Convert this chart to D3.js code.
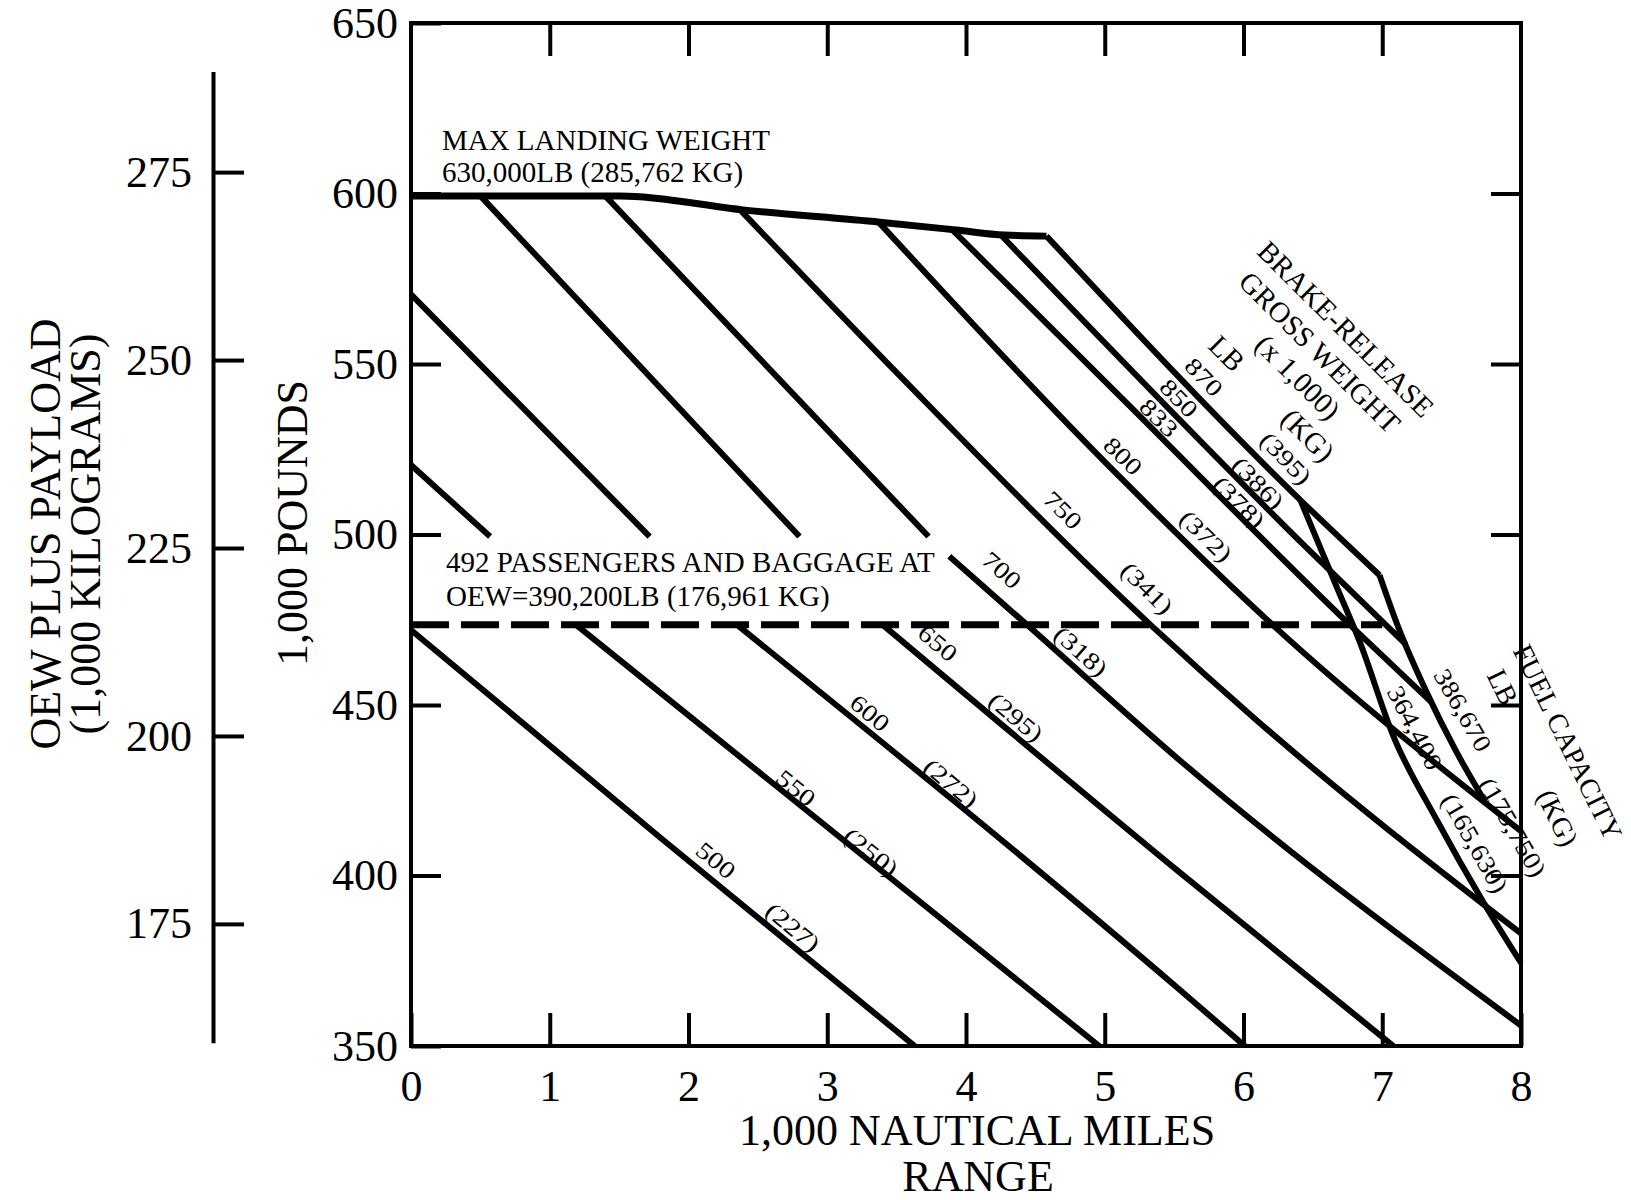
<!DOCTYPE html>
<html>
<head>
<meta charset="utf-8">
<script src="https://cdnjs.cloudflare.com/ajax/libs/d3/7.8.5/d3.min.js"></script>
<style>
body { margin: 0; background: #fff; }
svg text { font-family: "Liberation Serif", "DejaVu Serif", serif; fill: #000; }
</style>
</head>
<body>
<div id="chart"></div>
<script>
// axis values
var rangeTicks = [0, 1, 2, 3, 4, 5, 6, 7, 8];
var poundTicks = [350, 400, 450, 500, 550, 600, 650];
var kgTicks = [175, 200, 225, 250, 275];
var kgAxisEnds = [159.2, 288.4];
var LB_PER_KG = 2.20462;

// range (1,000 nm) vs OEW + payload (1,000 lb)
var maxLanding = [[0, 599.3], [1.51, 599.3], [2.39, 595.2], [3.38, 591.6], [3.93, 589.3], [4.28, 587.8], [4.58, 587.5]];
var passengerLevel = [[0, 473.5], [7.0, 473.5]];

// brake-release gross weight lines, null = gap under the note text
var tow500 = [[0, 472], [1.8, 411], [3.63, 350]];
var tow550 = [[0, 520.4], [0.57, 499.4], null, [1.19, 473.5], [4.96, 350]];
var tow600 = [[0, 570.4], [1.72, 499.4], null, [2.35, 473.5], [5.54, 366.5], [6.01, 350]];
var tow650 = [[0.50, 599.3], [2.80, 499.4], null, [3.40, 473.5], [5.54, 400.9], [7.08, 350]];
var tow700 = [[1.40, 599.3], [3.73, 499.4], null, [3.88, 493.6], [4.44, 473.5], [5.54, 433.8], [8, 356]];
var tow750 = [[2.37, 595.3], [3.55, 545.4], [5.33, 473.5], [6.09, 445.7], [8, 383]];
var tow800 = [[3.37, 591.6], [5.11, 516.8], [6.21, 473.5], [8, 413]];
var tow833 = [[3.90, 589.4], [5.11, 540.5], [6.79, 472.6], [7.35, 451]];
var tow850 = [[4.25, 587.9], [6.45, 496.3], [7.17, 467.8]];
var tow870 = [[4.58, 587.5], [6.41, 510.1], [6.98, 488.1]];

// fuel capacity lines
var fuel364 = [[6.41, 510.1], [6.67, 484.8], [6.84, 468.3], [7.08, 440.9], [7.39, 416.5], [7.73, 392.1], [8, 374.4]];
var fuel387 = [[6.98, 488.1], [7.12, 472.3], [7.32, 453.7], [7.53, 436.6], [7.74, 421.7]];

// [line, text, range, pounds] label centres
var lineLabels = [
	["500", "500", 2.198, 404.5], ["500", "(227)", 2.753, 384.9],
	["550", "550", 2.775, 425.7], ["550", "(250)", 3.315, 406.9],
	["600", "600", 3.308, 447.7], ["600", "(272)", 3.892, 427.1],
	["650", "650", 3.798, 468.2], ["650", "(295)", 4.360, 446.5],
	["700", "700", 4.259, 489.6], ["700", "(318)", 4.829, 465.8],
	["750", "750", 4.699, 507.2], ["750", "(341)", 5.305, 484.3],
	["800", "800", 5.132, 523.0], ["800", "(372)", 5.730, 499.6],
	["833", "833", 5.391, 534.2], ["833", "(378)", 5.968, 509.5],
	["850", "850", 5.535, 540.0], ["850", "(386)", 6.105, 515.1],
	["870", "870", 5.715, 546.2], ["870", "(395)", 6.306, 522.4]
];
var fuelLabels = [
	["387", "386,670", 7.582, 448.5], ["387", "(175,750)", 7.942, 414.2],
	["364", "364,400", 7.236, 443.3], ["364", "(165,630)", 7.668, 409.5]
];

var notes = [
	["MAX LANDING WEIGHT", 0.223, 612.8],
	["630,000LB (285,762 KG)", 0.223, 603.4],
	["492 PASSENGERS AND BAGGAGE AT", 0.252, 489.0],
	["OEW=390,200LB (176,961 KG)", 0.252, 479.0]
];
var brakeNotes = [
	["BRAKE-RELEASE", 6.739, 560.3],
	["GROSS WEIGHT", 6.551, 553.5],
	["(x 1,000)", 6.393, 546.2],
	["(KG)", 6.465, 529.2],
	["LB", 5.881, 553.2]
];
var fuelNotes = [
	["FUEL CAPACITY", 8.339, 439.1],
	["LB", 7.870, 455.3],
	["(KG)", 8.267, 416.9]
];

var W = 1631, H = 1200;
var plotLeft = 411, plotTop = 23, plotW = 1110, plotH = 1023;
var serif = '"Liberation Serif", "DejaVu Serif", serif';

var svg = d3.select("#chart").append("svg")
	.attr("width", W)
	.attr("height", H);

svg.append("rect").attr("width", W).attr("height", H).attr("fill", "#fff");

var x = d3.scaleLinear().domain([0, 8]).range([plotLeft, plotLeft + plotW]);
var y = d3.scaleLinear().domain([350, 650]).range([plotTop + plotH, plotTop]);

function styleAxis(g, size)
{
	g.select(".domain").remove();
	g.selectAll(".tick line").attr("stroke", "#000").attr("stroke-width", 4);
	g.selectAll("text").attr("font-size", size).attr("font-family", serif);
}

/* frame with inward ticks */
svg.append("g")
	.attr("transform", `translate(0, ${y(350)})`)
	.call(d3.axisBottom(x).tickValues(rangeTicks).tickSizeInner(-33).tickSizeOuter(0).tickPadding(24))
	.call(g => styleAxis(g, 44));

svg.append("g")
	.attr("transform", `translate(0, ${y(650)})`)
	.call(d3.axisTop(x).tickValues(rangeTicks.slice(1, -1)).tickSizeInner(-33).tickSizeOuter(0).tickFormat(""))
	.call(g => styleAxis(g, 44));

svg.append("g")
	.attr("transform", `translate(${x(0)}, 0)`)
	.call(d3.axisLeft(y).tickValues(poundTicks).tickSizeInner(-30).tickSizeOuter(0).tickPadding(13))
	.call(g => styleAxis(g, 44));

svg.append("g")
	.attr("transform", `translate(${x(8)}, 0)`)
	.call(d3.axisRight(y).tickValues(poundTicks.slice(1, -1)).tickSizeInner(-30).tickSizeOuter(0).tickFormat(""))
	.call(g => styleAxis(g, 44));

svg.append("rect")
	.attr("x", x(0)).attr("y", y(650))
	.attr("width", x(8) - x(0)).attr("height", y(350) - y(650))
	.attr("fill", "none").attr("stroke", "#000").attr("stroke-width", 4);

/* kilogram scale on the far left */
var yKg = d3.scaleLinear()
	.domain(kgAxisEnds)
	.range(kgAxisEnds.map(k => y(k * LB_PER_KG)));

svg.append("g")
	.attr("transform", "translate(213, 0)")
	.call(d3.axisRight(yKg).tickValues(kgTicks).tickSizeInner(31).tickSizeOuter(0))
	.call(function(g) {
		g.select(".domain").attr("stroke", "#000").attr("stroke-width", 4);
		g.selectAll(".tick line").attr("stroke", "#000").attr("stroke-width", 4);
		g.selectAll("text")
			.attr("x", -21)
			.attr("text-anchor", "end")
			.attr("font-size", 44)
			.attr("font-family", serif);
	});

/* axis titles */
svg.append("text").attr("x", 977).attr("y", 1145).attr("text-anchor", "middle")
	.attr("font-size", 44).text("1,000 NAUTICAL MILES");
svg.append("text").attr("x", 978).attr("y", 1191).attr("text-anchor", "middle")
	.attr("font-size", 44).text("RANGE");
svg.append("text").attr("transform", "translate(307, 523) rotate(-90)").attr("text-anchor", "middle")
	.attr("font-size", 44).text("1,000 POUNDS");
svg.append("text").attr("transform", "translate(60, 534) rotate(-90)").attr("text-anchor", "middle")
	.attr("font-size", 44).text("OEW PLUS PAYLOAD");
svg.append("text").attr("transform", "translate(100, 534) rotate(-90)").attr("text-anchor", "middle")
	.attr("font-size", 44).text("(1,000 KILOGRAMS)");

/* curves */
var line = d3.line()
	.defined(d => d !== null)
	.x(d => x(d[0]))
	.y(d => y(d[1]))
	.curve(d3.curveMonotoneX);

var curves = [
	{key: "500", pts: tow500}, {key: "550", pts: tow550}, {key: "600", pts: tow600},
	{key: "650", pts: tow650}, {key: "700", pts: tow700}, {key: "750", pts: tow750},
	{key: "800", pts: tow800}, {key: "833", pts: tow833}, {key: "850", pts: tow850},
	{key: "870", pts: tow870}, {key: "364", pts: fuel364}, {key: "387", pts: fuel387}
];
var curveByKey = {};
curves.forEach(c => curveByKey[c.key] = c.pts);

svg.append("g").selectAll("path")
	.data(curves).enter()
	.append("path")
	.attr("d", d => line(d.pts))
	.attr("fill", "none")
	.attr("stroke", "#000")
	.attr("stroke-width", 6)
	.attr("stroke-linejoin", "round");

svg.append("path")
	.attr("d", line(maxLanding))
	.attr("fill", "none")
	.attr("stroke", "#000")
	.attr("stroke-width", 7)
	.attr("stroke-linejoin", "round");

svg.append("path")
	.attr("d", line(passengerLevel))
	.attr("fill", "none")
	.attr("stroke", "#000")
	.attr("stroke-width", 7)
	.attr("stroke-dasharray", "38 12");

/* label angle follows the local slope of its line */
function angleAt(pts, xv)
{
	var segs = [];
	for(var i = 1; i < pts.length; i++)
	{
		if(pts[i] && pts[i-1]) segs.push([pts[i-1], pts[i]]);
	}
	var s = segs.find(sg => xv >= sg[0][0] && xv <= sg[1][0]);
	if(!s) s = xv < segs[0][0][0] ? segs[0] : segs[segs.length - 1];
	var dx = x(s[1][0]) - x(s[0][0]);
	var dy = y(s[1][1]) - y(s[0][1]);
	return Math.atan2(dy, dx) * 180 / Math.PI;
}

// the printed numerals are wide, so stretch them sideways
function addLabels(data, size, stretch)
{
	svg.append("g").selectAll("text")
		.data(data).enter()
		.append("text")
		.attr("transform", d => `translate(${x(d[2])}, ${y(d[3])}) rotate(${angleAt(curveByKey[d[0]], d[2])}) scale(${stretch}, 1)`)
		.attr("text-anchor", "middle")
		.attr("dy", "0.35em")
		.attr("font-size", size)
		.text(d => d[1]);
}
addLabels(lineLabels, 24, 1.2);
addLabels(fuelLabels, 25, 1.12);

/* notes */
svg.append("g").selectAll("text")
	.data(notes).enter()
	.append("text")
	.attr("x", d => x(d[1]))
	.attr("y", d => y(d[2]))
	.attr("font-size", 29)
	.text(d => d[0]);

svg.append("g").selectAll("text")
	.data(brakeNotes).enter()
	.append("text")
	.attr("transform", d => `translate(${x(d[1])}, ${y(d[2])}) rotate(45)`)
	.attr("text-anchor", "middle")
	.attr("dy", "0.35em")
	.attr("font-size", 29)
	.text(d => d[0]);

svg.append("g").selectAll("text")
	.data(fuelNotes).enter()
	.append("text")
	.attr("transform", d => `translate(${x(d[1])}, ${y(d[2])}) rotate(64)`)
	.attr("text-anchor", "middle")
	.attr("dy", "0.35em")
	.attr("font-size", 28)
	.text(d => d[0]);
</script>
</body>
</html>
